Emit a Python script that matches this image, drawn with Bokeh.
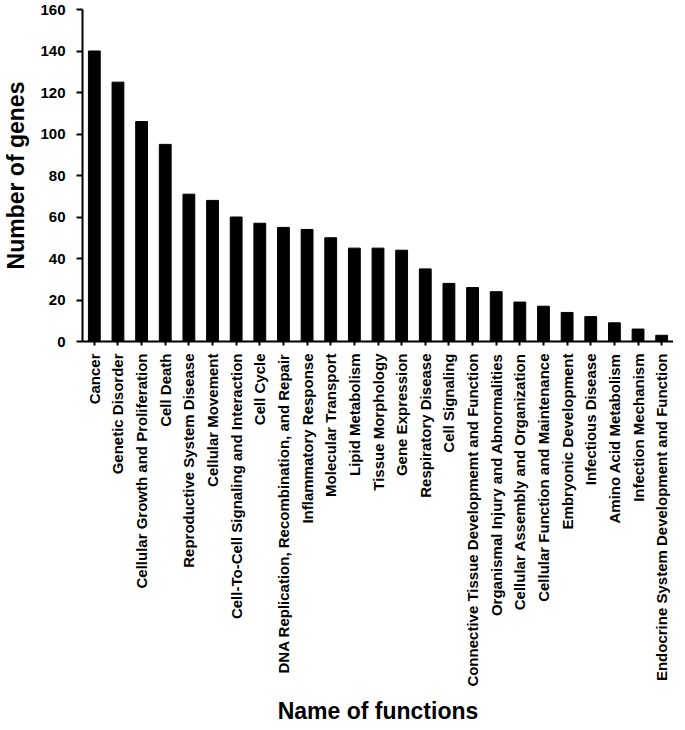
import math
from bokeh.plotting import figure
from bokeh.models import Range1d, FactorRange, SingleIntervalTicker
from bokeh.embed import file_html
from bokeh.resources import INLINE

categories = [
    "Cancer", "Genetic Disorder", "Cellular Growth and Proliferation", "Cell Death",
    "Reproductive System Disease", "Cellular Movement",
    "Cell-To-Cell Signaling and Interaction", "Cell Cycle",
    "DNA Replication, Recombination, and Repair", "Inflammatory Response",
    "Molecular Transport", "Lipid Metabolism", "Tissue Morphology", "Gene Expression",
    "Respiratory Disease", "Cell Signaling",
    "Connective Tissue Developmemt and Function",
    "Organismal Injury and Abnormalities", "Cellular Assembly and Organization",
    "Cellular Function and Maintenance", "Embryonic Development", "Infectious Disease",
    "Amino Acid Metabolism", "Infection Mechanism",
    "Endocrine System Development and Function",
]
gene_counts = [140, 125, 106, 95, 71, 68, 60, 57, 55, 54, 50, 45, 45, 44, 35, 28,
               26, 24, 19, 17, 14, 12, 9, 6, 3]

FONT = "Liberation Sans"

p = figure(
    x_range=FactorRange(*categories),
    y_range=Range1d(0, 160),
    width=669, height=714,
    min_border_left=78, min_border_right=0, min_border_top=9, min_border_bottom=373,
    output_backend="svg", toolbar_location=None,
)
p.frame_height = 332
p.frame_width = 591

p.vbar(x=categories, top=gene_counts, width=0.5, color="black")

p.outline_line_color = None
p.xgrid.visible = False
p.ygrid.visible = False
p.background_fill_color = "white"
p.border_fill_color = "white"

ya = p.yaxis[0]
ya.ticker = SingleIntervalTicker(interval=20)
ya.axis_label = "Number of genes"
ya.axis_label_text_font = FONT
ya.axis_label_text_font_style = "bold"
ya.axis_label_text_font_size = "23px"
ya.axis_label_text_color = "black"
ya.axis_label_standoff = 8
ya.major_label_text_font = FONT
ya.major_label_text_font_style = "bold"
ya.major_label_text_font_size = "15px"
ya.major_label_text_color = "black"
ya.major_label_standoff = 11
ya.axis_line_width = 2
ya.axis_line_color = "black"
ya.major_tick_line_width = 2
ya.major_tick_line_color = "black"
ya.major_tick_out = 6
ya.major_tick_in = 0
ya.minor_tick_line_color = None

xa = p.xaxis[0]
xa.axis_label = "Name of functions"
xa.axis_label_text_font = FONT
xa.axis_label_text_font_style = "bold"
xa.axis_label_text_font_size = "23px"
xa.axis_label_text_color = "black"
xa.axis_label_standoff = 8
xa.major_label_orientation = math.pi / 2
xa.major_label_text_font = FONT
xa.major_label_text_font_style = "bold"
xa.major_label_text_font_size = "15px"
xa.major_label_text_color = "black"
xa.major_label_standoff = 8
xa.axis_line_width = 2
xa.axis_line_color = "black"
xa.major_tick_line_width = 2
xa.major_tick_line_color = "black"
xa.major_tick_out = 4
xa.major_tick_in = 0
xa.minor_tick_line_color = None

open("out.html", "w").write(file_html(p, INLINE))
